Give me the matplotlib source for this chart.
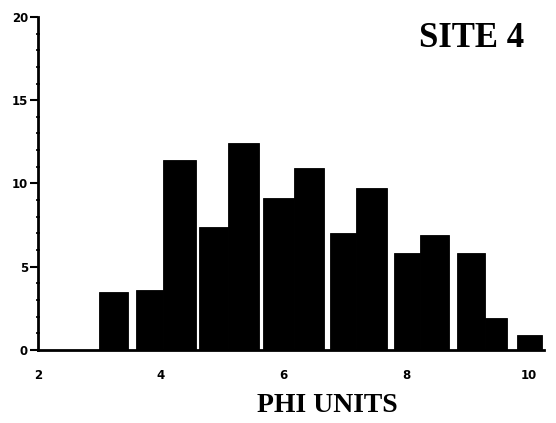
import matplotlib

matplotlib.use("Agg")
import matplotlib.pyplot as plt
from matplotlib.ticker import MultipleLocator

# grain-size classes (phi units); bars come in pairs
phi_left = [3.0, 3.6, 4.04, 4.62, 5.09, 5.66, 6.17, 6.76, 7.18, 7.8, 8.22, 8.82, 9.28, 9.8]
phi_width = [0.47, 0.44, 0.53, 0.47, 0.51, 0.51, 0.49, 0.42, 0.5, 0.42, 0.47, 0.46, 0.37, 0.42]
percent = [3.5, 3.6, 11.4, 7.4, 12.4, 9.1, 10.9, 7.0, 9.7, 5.8, 6.9, 5.8, 1.9, 0.9]

x_ticks = [2, 4, 6, 8, 10]
y_ticks = [0, 5, 10, 15, 20]

fig = plt.figure(figsize=(5.56, 4.23), dpi=100)
ax = fig.add_axes([0.068, 0.173, 0.911, 0.787])

ax.bar(phi_left, percent, width=phi_width, align="edge", color="black",
       edgecolor="black", linewidth=0.6)

ax.set_xlim(2, 10.25)
ax.set_ylim(0, 20)
ax.set_xticks(x_ticks)
ax.set_yticks(y_ticks)
ax.yaxis.set_minor_locator(MultipleLocator(1))

for side in ("top", "right"):
    ax.spines[side].set_visible(False)
for side in ("left", "bottom"):
    ax.spines[side].set_linewidth(2.0)

ax.tick_params(axis="y", which="major", direction="out", length=6, width=1.5, pad=1,
               labelsize=8.5)
ax.tick_params(axis="y", which="minor", direction="inout", length=3, width=1.2)
ax.tick_params(axis="x", which="major", length=0, pad=14, labelsize=8.5)
for lbl in ax.get_xticklabels() + ax.get_yticklabels():
    lbl.set_fontweight("heavy")
    lbl.set_family("DejaVu Sans")

ax.set_xlabel("PHI UNITS", family="Liberation Serif", fontweight="bold",
              fontsize=20, labelpad=8, x=0.572)
ax.text(0.96, 0.985, "SITE 4", transform=ax.transAxes, ha="right", va="top",
        family="Liberation Serif", fontweight="bold", fontsize=25)

fig.savefig("out.png", dpi=100)
